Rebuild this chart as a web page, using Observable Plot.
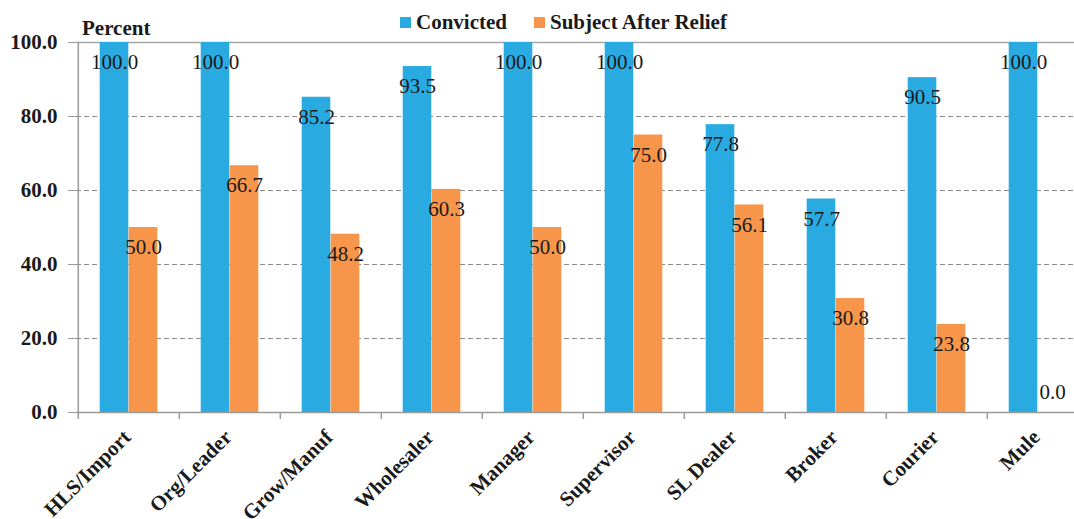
<!DOCTYPE html>
<html>
<head>
<meta charset="utf-8">
<script src="https://cdn.jsdelivr.net/npm/d3@7"></script>
<script src="https://cdn.jsdelivr.net/npm/@observablehq/plot@0.6"></script>
<style>
  html, body { margin: 0; padding: 0; background: #fff; overflow: hidden; }
  #wrap { position: relative; width: 1074px; height: 519px; overflow: hidden; }
  .legend { position: absolute; top: 10px; left: 0; width: 1074px; height: 24px; font-family: "Liberation Serif", "DejaVu Serif", serif; font-weight: bold; font-size: 21px; color: #1a1a1a; }
  .legend span.item { position: absolute; top: 0; line-height: 24px; white-space: nowrap; }
  .legend i { display: inline-block; width: 11px; height: 11px; margin-right: 5px; vertical-align: 1px; }
  .ylab { position: absolute; left: 82px; top: 16px; font-family: "Liberation Serif", "DejaVu Serif", serif; font-weight: bold; font-size: 21px; color: #1a1a1a; line-height: 24px; }
  g[aria-label^="y-axis"] path, g[aria-label^="y-axis"] line { stroke: #9a9a9a; }
  g[aria-label^="y-axis"] text { fill: #1a1a1a; }
  svg text { font-family: "Liberation Serif", "DejaVu Serif", serif; }
</style>
</head>
<body>
<div id="wrap">
  <div class="legend">
    <span class="item" style="left:400px"><i style="background:#29ABE2"></i>Convicted</span>
    <span class="item" style="left:534px"><i style="background:#F7964A"></i>Subject After Relief</span>
  </div>
  <div class="ylab">Percent</div>
  <div id="chart"></div>
</div>
<script>
const categories = ["HLS/Import","Org/Leader","Grow/Manuf","Wholesaler","Manager","Supervisor","SL Dealer","Broker","Courier","Mule"];
const convicted = [100.0, 100.0, 85.2, 93.5, 100.0, 100.0, 77.8, 57.7, 90.5, 100.0];
const afterRelief = [50.0, 66.7, 48.2, 60.3, 50.0, 75.0, 56.1, 30.8, 23.8, 0.0];
const yTicks = [0, 20, 40, 60, 80, 100];
const seriesNames = ["Convicted", "Subject After Relief"];
const seriesColors = ["#29ABE2", "#F7964A"];

const W = 1090, H = 519, ML = 76, MR = 0, MT = 42, MB = 107;
const bw = (W - ML - MR) / categories.length;
const barW = 29;

const rowsC = categories.map((c, i) => ({cat: c, v: convicted[i]}));
const rowsR = categories.map((c, i) => ({cat: c, v: afterRelief[i]}));
const fmt = d => d.v.toFixed(1);

const chart = Plot.plot({
  width: W, height: H,
  marginLeft: ML, marginRight: MR, marginTop: MT, marginBottom: MB,
  style: {fontFamily: "'Liberation Serif', 'DejaVu Serif', serif", fontSize: "21px", fontWeight: "bold", color: "#1a1a1a", background: "#fff", maxWidth: "none", height: H + "px"},
  x: {domain: categories, padding: 0, axis: null},
  y: {domain: [0, 100], ticks: yTicks, tickFormat: d => d.toFixed(1), tickSize: 8, tickPadding: 11, label: null},
  marks: [
    Plot.ruleY(yTicks.filter(v => v > 0 && v < 100), {y: d => d, stroke: "#8c8c8c", strokeDasharray: "5,3", strokeWidth: 1}),
    Plot.ruleY([100], {y: d => d, stroke: "#a6a6a6", strokeWidth: 1.5}),
    Plot.barY(rowsC, {x: "cat", y: "v", fill: seriesColors[0], insetLeft: bw / 2 - barW, insetRight: bw / 2}),
    Plot.barY(rowsR, {x: "cat", y: "v", fill: seriesColors[1], insetLeft: bw / 2, insetRight: bw / 2 - barW}),
    Plot.ruleY([0], {y: d => d, stroke: "#9a9a9a", strokeWidth: 1.5}),
    Plot.ruleX([categories[0]], {x: d => d, dx: -bw / 2, stroke: "#9a9a9a", strokeWidth: 1.5}),
    Plot.ruleX(categories, {x: d => d, y1: d => 0, y2: d => 0, insetTop: 7, dx: -bw / 2, stroke: "#9a9a9a", strokeWidth: 1.5}),
    Plot.text(rowsC.filter(d => d.v > 0), {x: "cat", y: "v", text: fmt, dx: -barW / 2, dy: 20, fontSize: 21, fontWeight: "normal", fill: "#1a1a1a"}),
    Plot.text(rowsR.filter(d => d.v > 0), {x: "cat", y: "v", text: fmt, dx: barW / 2, dy: 20, fontSize: 21, fontWeight: "normal", fill: "#1a1a1a"}),
    Plot.text(rowsR.filter(d => d.v === 0), {x: "cat", y: "v", text: fmt, dx: barW / 2, dy: -20, fontSize: 21, fontWeight: "normal", fill: "#1a1a1a"}),
    Plot.text(categories, {x: d => d, frameAnchor: "bottom", text: d => d, rotate: -45, textAnchor: "end", dx: 3, dy: 26, fontSize: 21, fontWeight: "bold", fill: "#1a1a1a"})
  ]
});
document.getElementById("chart").appendChild(chart);
</script>
</body>
</html>
